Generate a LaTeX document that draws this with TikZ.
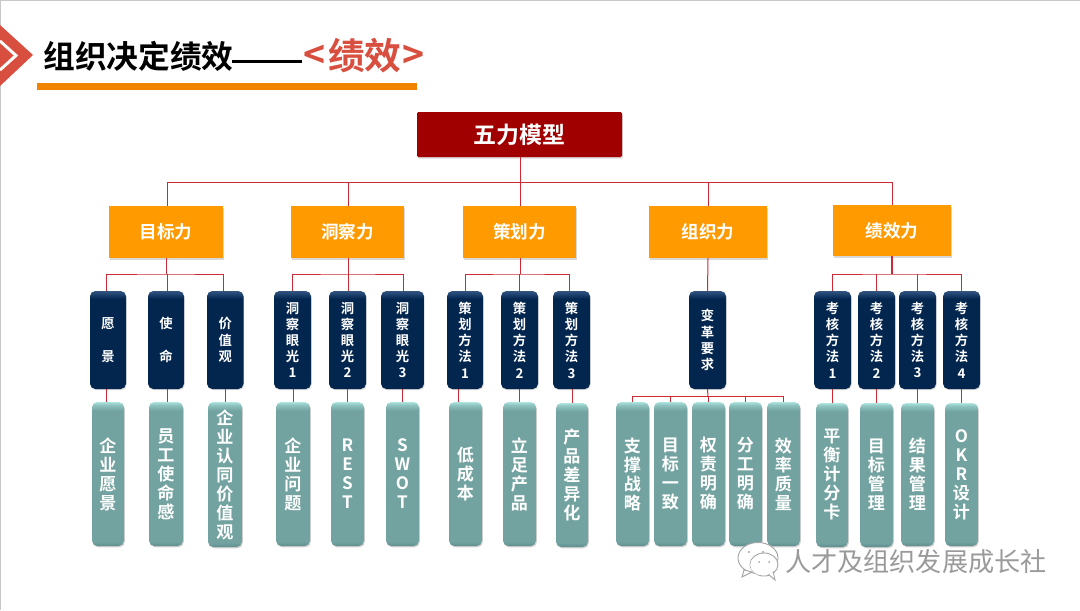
\documentclass[tikz,border=0pt]{standalone}
\usepackage{fontspec}
\setmainfont{Noto Sans CJK SC}[BoldFont={Noto Sans CJK SC Bold}]
\usetikzlibrary{shadows}
\definecolor{redbox}{HTML}{A00000}
\definecolor{orangebox}{HTML}{FF9A00}
\definecolor{wire}{HTML}{CE2A36}
\definecolor{rule}{HTML}{F08400}
\definecolor{accent}{HTML}{D94F3F}
\definecolor{wm}{HTML}{9A9A9A}
\definecolor{nva}{HTML}{032A55}
\definecolor{nvb}{HTML}{02244C}
\definecolor{nvc}{HTML}{03264F}
\definecolor{nvd}{HTML}{1F4470}
\definecolor{nve}{HTML}{33547E}
\definecolor{tla}{HTML}{5F8E8B}
\definecolor{tlb}{HTML}{72A3A0}
\definecolor{tlc}{HTML}{8FC4C0}
\definecolor{tld}{HTML}{ACE4DF}
\pgfdeclareverticalshading{navyshade}{100bp}{
 color(0bp)=(nva); color(25bp)=(nvb); color(27bp)=(nvc);
 color(71bp)=(nvc); color(73.5bp)=(nvd); color(75bp)=(nve); color(100bp)=(nve)}
\pgfdeclareverticalshading{tealshade}{100bp}{
 color(0bp)=(tla); color(25bp)=(tla); color(26.5bp)=(tlb);
 color(72bp)=(tlb); color(74bp)=(tlc); color(75bp)=(tld); color(100bp)=(tld)}
\tikzset{
 x=0.75pt,y=-0.75pt,
 basebox/.style={inner sep=0pt,outer sep=0pt,align=center,text=white,font=\bfseries},
 topbox/.style={basebox,fill=redbox,rounded corners=1pt,font=\fontsize{17.2}{20}\selectfont\bfseries,
   drop shadow={shadow xshift=0.6pt,shadow yshift=-1.2pt,opacity=0.3}},
 forcebox/.style={basebox,fill=orangebox,font=\fontsize{13.2}{15}\selectfont\bfseries,
   drop shadow={shadow xshift=0.6pt,shadow yshift=-1.2pt,opacity=0.3}},
 navybox/.style={basebox,rounded corners=4pt,shading=navyshade,font=\fontsize{10}{12.15}\selectfont\bfseries,
   drop shadow={shadow xshift=0.5pt,shadow yshift=-0.8pt,opacity=0.3}},
 tealbox/.style={basebox,rounded corners=4pt,shading=tealshade,font=\fontsize{12.8}{14.25}\selectfont\bfseries,
   drop shadow={shadow xshift=0.6pt,shadow yshift=-1pt,opacity=0.35}},
 wirel/.style={draw=wire,line width=0.75pt},
}
\newcommand{\bx}[7]{%
 \pgfmathsetlengthmacro{\bw}{(#5-#3)*0.75pt}%
 \pgfmathsetlengthmacro{\bh}{(#6-#4)*0.75pt}%
 \node[#1,minimum width=\bw,minimum height=\bh] (#2) at ({(#3+#5)/2},{(#4+#6)/2}) {#7};}
\begin{document}
\begin{tikzpicture}
\useasboundingbox (0,0) rectangle (1080,610);
\fill[white] (0,0) rectangle (1080,610);
\draw[color=black!22,line width=0.8pt] (0,610) -- (0,0) -- (1080,0);
% chevron
\fill[accent] (0,25) -- (33,55) -- (0,86) -- cycle;
\draw[white,line width=2.2pt,line join=miter] (0,41) -- (16,55.5) -- (0,70);
% title
\node[anchor=base west,inner sep=0pt,font=\fontsize{23.8}{28}\selectfont\bfseries] (ttl) at (43,69) {组织决定绩效};
\node[anchor=base west,inner sep=0pt,font=\fontsize{26}{28}\selectfont\bfseries] (ttldash) at (232,70) {\hbox to 52.5pt{\leaders\hrule height 7.4pt depth -5.6pt\hfill}};
\node[anchor=base west,inner sep=0pt,text=accent,font=\fontsize{28}{28}\selectfont\bfseries] (ttla) at (303,69) {<};
\node[anchor=base west,inner sep=0pt,text=accent,font=\fontsize{27.5}{28}\selectfont\bfseries] (ttlb) at (328,69.5) {绩效};
\node[anchor=base west,inner sep=0pt,text=accent,font=\fontsize{28}{28}\selectfont\bfseries] (ttlc) at (402,69) {>};
\fill[rule] (37,83) rectangle (417,90);
% junction coordinates
\coordinate (bus0) at (520,182);
\coordinate (busL) at (167,182);
\coordinate (busR) at (892,182);
\coordinate (b1) at (166.5,274);
\coordinate (b2) at (348,274);
\coordinate (b3) at (520,274);
\coordinate (b5) at (892,274);
\coordinate (b4) at (708,396.5);
% boxes
\bx{topbox}{top}{417}{112}{622}{157}{五力模型}
\bx{forcebox}{f1}{109}{206}{223}{258}{目标力}
\bx{forcebox}{f2}{291}{206}{404}{258}{洞察力}
\bx{forcebox}{f3}{463}{206}{576}{258}{策划力}
\bx{forcebox}{f4}{649}{206}{767}{258}{组织力}
\bx{forcebox}{f5}{833}{205}{951}{256}{绩效力}
\bx{navybox}{a1}{90}{291}{126}{389}{愿\\ \\景}
\bx{navybox}{a2}{148}{291}{184}{389}{使\\ \\命}
\bx{navybox}{a3}{207}{291}{243.5}{389}{价\\值\\观}
\bx{navybox}{c1}{274}{291}{311}{389}{洞\\察\\眼\\光\\1}
\bx{navybox}{c2}{329}{291}{366}{389}{洞\\察\\眼\\光\\2}
\bx{navybox}{c3}{381}{291}{424}{389}{洞\\察\\眼\\光\\3}
\bx{navybox}{e1}{447}{291}{483}{389}{策\\划\\方\\法\\1}
\bx{navybox}{e2}{501}{291}{538}{389}{策\\划\\方\\法\\2}
\bx{navybox}{e3}{553}{291}{590}{389}{策\\划\\方\\法\\3}
\bx{navybox}{g1}{689}{291}{726}{389}{变\\革\\要\\求}
\bx{navybox}{k1}{814}{291}{851}{389}{考\\核\\方\\法\\1}
\bx{navybox}{k2}{858}{291}{895}{389}{考\\核\\方\\法\\2}
\bx{navybox}{k3}{899}{291}{936}{389}{考\\核\\方\\法\\3}
\bx{navybox}{k4}{943}{291}{980}{389}{考\\核\\方\\法\\4}
\bx{tealbox}{ta1}{92}{402}{124}{546}{企\\业\\愿\\景}
\bx{tealbox}{ta2}{149}{402}{183}{546}{员\\工\\使\\命\\感}
\bx{tealbox}{ta3}{208}{402}{242}{547}{企\\业\\认\\同\\价\\值\\观}
\bx{tealbox}{tc1}{276}{402}{310}{546}{企\\业\\问\\题}
\bx{tealbox}{tc2}{331}{402}{364}{546}{R\\E\\S\\T}
\bx{tealbox}{tc3}{386}{402}{419}{546}{S\\W\\O\\T}
\bx{tealbox}{te1}{449}{402}{482}{546}{低\\成\\本}
\bx{tealbox}{te2}{503}{402}{536}{546}{立\\足\\产\\品}
\bx{tealbox}{te3}{556}{403}{588}{547}{产\\品\\差\\异\\化}
\bx{tealbox}{tg1}{616}{402}{649}{546}{支\\撑\\战\\略}
\bx{tealbox}{tg2}{654}{402}{687}{546}{目\\标\\一\\致}
\bx{tealbox}{tg3}{692}{402}{725}{546}{权\\责\\明\\确}
\bx{tealbox}{tg4}{729}{402}{762}{546}{分\\工\\明\\确}
\bx{tealbox}{tg5}{767}{402}{800}{546}{效\\率\\质\\量}
\bx{tealbox}{tk1}{816}{403}{848}{547}{平\\衡\\计\\分\\卡}
\bx{tealbox}{tk2}{860}{403}{893}{547}{目\\标\\管\\理}
\bx{tealbox}{tk3}{901}{403}{934}{546}{结\\果\\管\\理}
\bx{tealbox}{tk4}{945}{403}{978}{546}{O\\K\\R\\设\\计}
% level 1 wires
\draw[wirel] (top.south -| bus0) -- (f3.north -| bus0);
\draw[wirel] (f1.north -| busL) |- (busR) -- (f5.north -| busR);
\draw[wirel] (f2.north -| b2) -- (b2 |- bus0);
\draw[wirel] (f4.north) -- (f4.north |- bus0);
% level 2 wires
\draw[wirel] (f1.south -| b1) -- (b1);
\draw[wirel] ([xshift=-1.2pt]a1.north) |- (b1) -| ([xshift=-1.6pt]a3.north);
\draw[wirel] ([xshift=1pt]a2.north) -- ([xshift=1pt]a2.north |- b1);
\draw[wirel] (f2.south -| b2) -- (b2);
\draw[wirel] (c1.north) |- (b2) -| ([xshift=0.4pt]c3.north);
\draw[wirel] (c2.north -| b2) -- (b2);
\draw[wirel] (f3.south -| b3) -- (b3);
\draw[wirel] (e1.north) |- (b3) -| ([xshift=-1.5pt]e3.north);
\draw[wirel] (e2.north) -- (e2.north |- b3);
\draw[wirel] (f4.south) -- (g1.north);
\draw[wirel,line width=1.1pt] (f5.south -| b5) -- (b5);
\draw[wirel] ([xshift=0.3pt]k1.north) |- (b5) -| ([xshift=0.3pt]k4.north);
\draw[wirel] (k2.north) -- (k2.north |- b5);
\draw[wirel] (k3.north) -- (k3.north |- b5);
% level 3 wires
\draw[wirel] ([xshift=-1.2pt]a1.south) -- ([xshift=-1.2pt]a1.south |- ta1.north);
\draw[wirel] ([xshift=0.8pt]a2.south) -- ([xshift=0.8pt]a2.south |- ta2.north);
\draw[wirel] (ta3.north) -- (ta3.north |- a3.south);
\draw[wirel] (tc1.north) -- (tc1.north |- c1.south);
\draw[wirel] (tc2.north) -- (tc2.north |- c2.south);
\draw[wirel] (tc3.north) -- (tc3.north |- c3.south);
\draw[wirel] ([xshift=-5.6pt]te1.north) -- ([xshift=-5.6pt]te1.north |- e1.south);
\draw[wirel] (te2.north) -- (te2.north |- e2.south);
\draw[wirel] (te3.north) -- (te3.north |- e3.south);
\draw[wirel] (g1.south) -- (b4);
\draw[wirel] (tg1.north) |- (b4) -| (tg5.north);
\draw[wirel] (tg2.north) -- (tg2.north |- b4);
\draw[wirel] (tg3.north) -- (tg3.north |- b4);
\draw[wirel] (tg4.north) -- (tg4.north |- b4);
\draw[wirel] (tk1.north) -- (tk1.north |- k1.south);
\draw[wirel] (tk2.north) -- (tk2.north |- k2.south);
\draw[wirel] (tk3.north) -- (tk3.north |- k3.south);
\draw[wirel] (tk4.north) -- (tk4.north |- k4.south);
% watermark
\begin{scope}[draw=black!35,line width=0.7pt,fill=white]
 \filldraw (758,558) ellipse [x radius=20,y radius=15.5];
 \filldraw (744,570) -- (742,577) -- (752,572) -- cycle;
 \fill[black!35] (749,552) circle (1.1) (763,552) circle (1.1);
 \filldraw (764,564.5) ellipse [x radius=14,y radius=11.5];
 \filldraw (768,574) -- (775,580) -- (773,571) -- cycle;
 \fill[white] (763,565) ellipse [x radius=12.8,y radius=10.3];
 \fill[black!35] (759,562) circle (1) (769,562) circle (1);
\end{scope}
\node[anchor=base west,inner sep=0pt,text=wm,font=\fontsize{19.6}{24}\selectfont] (wmark) at (785,571) {人才及组织发展成长社};
\end{tikzpicture}
\end{document}
